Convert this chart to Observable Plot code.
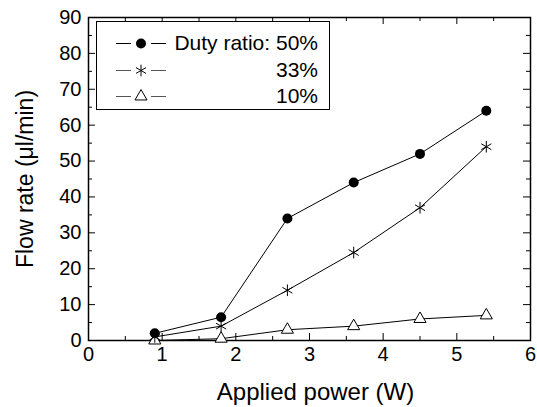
<!DOCTYPE html>
<html><head><meta charset="utf-8">
<script src="https://cdn.jsdelivr.net/npm/d3@7"></script>
<script src="https://cdn.jsdelivr.net/npm/@observablehq/plot@0.6"></script>
<style>
body{margin:0;background:#fff;font-family:"Liberation Sans",Arial,sans-serif;}
#wrap{position:relative;width:537px;height:407px;}
</style></head><body>
<div id="wrap"></div>
<script>
// Data
const power = [0.9, 1.8, 2.7, 3.6, 4.5, 5.4];
const duty50 = [2, 6.5, 34, 44, 52, 64];
const duty33 = [1, 4, 14, 24.5, 37, 54];
const duty10 = [0, 0.5, 3, 4, 6, 7];
const legendLabels = ["Duty ratio: 50%", "33%", "10%"];
const xTicks = [0, 1, 2, 3, 4, 5, 6];
const xMinor = [0.5, 1.5, 2.5, 3.5, 4.5, 5.5];
const yTicks = [0, 10, 20, 30, 40, 50, 60, 70, 80, 90];
const yMinor = [5, 15, 25, 35, 45, 55, 65, 75, 85];
const xTitle = "Applied power (W)";
const yTitle = "Flow rate (\u03bcl/min)";

const W = 537, H = 407, mL = 88, mR = 7, mT = 17, mB = 67;
const frameW = W - mL - mR, frameH = H - mT - mB;

const t50 = power.map((p, i) => ({x: p, y: duty50[i]}));
const t33 = power.map((p, i) => ({x: p, y: duty33[i]}));
const t10 = power.map((p, i) => ({x: p, y: duty10[i]}));
const tk = {stroke: "black", strokeWidth: 1};
const xt = (ticks, side, len) => Plot.tickX(ticks, {x: d => d, ...tk,
  [side === "bottom" ? "insetTop" : "insetBottom"]: frameH - len});
const yt = (ticks, side, len) => Plot.tickY(ticks, {y: d => d, ...tk,
  [side === "left" ? "insetRight" : "insetLeft"]: frameW - len});

const chart = Plot.plot({
  width: W, height: H,
  marginLeft: mL, marginRight: mR, marginTop: mT, marginBottom: mB,
  x: {domain: [0, 6]},
  y: {domain: [0, 90]},
  style: {fontFamily: "'Liberation Sans', Arial, sans-serif", fontSize: "20px", color: "black", background: "white"},
  marks: [
    // tick labels
    Plot.axisX({ticks: xTicks, tickSize: 0, tickPadding: 6, fontSize: 20, tickFormat: d3.format("d"), label: null}),
    Plot.axisY({ticks: yTicks, tickSize: 0, tickPadding: 7, fontSize: 20, tickFormat: d3.format("d"), label: null}),
    // inward ticks, all four sides
    xt(xTicks, "bottom", 7), xt(xMinor, "bottom", 4),
    xt(xTicks, "top", 7), xt(xMinor, "top", 4),
    yt(yTicks, "left", 7), yt(yMinor, "left", 4),
    yt(yTicks, "right", 7), yt(yMinor, "right", 4),
    Plot.frame({stroke: "black", strokeWidth: 1.5}),
    // titles
    Plot.text([xTitle], {frameAnchor: "bottom", lineAnchor: "middle", textAnchor: "middle", dy: 52, dx: 6, fontSize: 24}),
    Plot.text([yTitle], {frameAnchor: "left", lineAnchor: "middle", textAnchor: "middle", rotate: -90, dx: -63, fontSize: 23}),
    // series
    Plot.line(t50, {x: "x", y: "y", stroke: "black", strokeWidth: 1}),
    Plot.line(t33, {x: "x", y: "y", stroke: "black", strokeWidth: 1}),
    Plot.line(t10, {x: "x", y: "y", stroke: "black", strokeWidth: 1}),
    Plot.dot(t10, {x: "x", y: "y", symbol: "triangle", r: 4.5, fill: "white", stroke: "black", strokeWidth: 1}),
    Plot.dot(t33, {x: "x", y: "y", symbol: "asterisk", r: 5.5, stroke: "black", strokeWidth: 1}),
    Plot.dot(t50, {x: "x", y: "y", symbol: "circle", r: 5, fill: "black", stroke: "none"})
  ]
});
const wrap = document.getElementById("wrap");
wrap.appendChild(chart);

// Legend (inside plot, upper left)
const leg = d3.select(wrap).append("svg")
  .attr("width", 234).attr("height", 90)
  .style("position", "absolute").style("left", "96px").style("top", "21px")
  .style("font-family", "'Liberation Sans', Arial, sans-serif");
leg.append("rect").attr("x", 0.5).attr("y", 0.5).attr("width", 233).attr("height", 88)
  .attr("fill", "white").attr("stroke", "black").attr("stroke-width", 1);
const rowY = [22, 49, 75];
const syms = [
  {type: d3.symbolCircle, size: Math.PI * 25, fill: "black", stroke: "none"},
  {type: d3.symbolAsterisk, size: Math.PI * 30, fill: "none", stroke: "black"},
  {type: d3.symbolTriangle, size: Math.PI * 20, fill: "white", stroke: "black"}
];
legendLabels.forEach((lab, i) => {
  const g = leg.append("g").attr("transform", `translate(0,${rowY[i]})`);
  const col = i === 0 ? "black" : "#555";
  g.append("line").attr("x1", 20).attr("x2", 35).attr("y1", 0.5).attr("y2", 0.5)
    .attr("stroke", col).attr("stroke-width", 1);
  g.append("line").attr("x1", 55).attr("x2", 70).attr("y1", 0.5).attr("y2", 0.5)
    .attr("stroke", col).attr("stroke-width", 1);
  g.append("path").attr("transform", "translate(45,0.5)")
    .attr("d", d3.symbol(syms[i].type, syms[i].size)())
    .attr("fill", syms[i].fill).attr("stroke", syms[i].stroke).attr("stroke-width", 1);
  g.append("text").attr("x", 222).attr("y", 0).attr("dy", "0.35em")
    .attr("text-anchor", "end").attr("font-size", 21).text(lab);
});
</script>
</body></html>
